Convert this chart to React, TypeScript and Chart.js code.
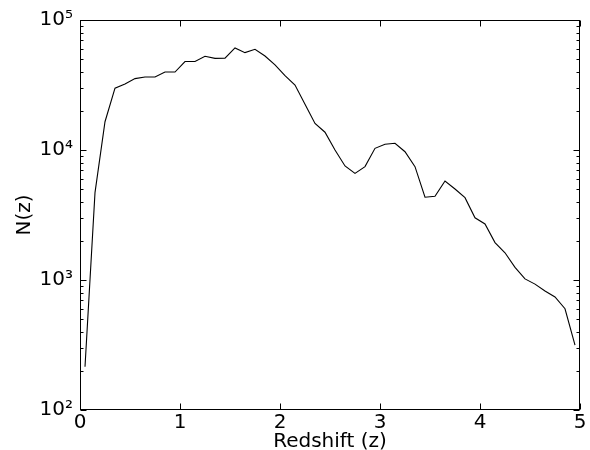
import React, { useEffect, useRef } from "react";
import { Chart, registerables } from "chart.js";

Chart.register(...registerables);

const redshift = [
  0.05, 0.15, 0.25, 0.35, 0.45, 0.55, 0.65, 0.75, 0.85, 0.95,
  1.05, 1.15, 1.25, 1.35, 1.45, 1.55, 1.65, 1.75, 1.85, 1.95,
  2.05, 2.15, 2.25, 2.35, 2.45, 2.55, 2.65, 2.75, 2.85, 2.95,
  3.05, 3.15, 3.25, 3.35, 3.45, 3.55, 3.65, 3.75, 3.85, 3.95,
  4.05, 4.15, 4.25, 4.35, 4.45, 4.55, 4.65, 4.75, 4.85, 4.95,
];

const counts = [
  215, 4700, 16500, 29900, 32200, 35400, 36400, 36400, 39800, 39800,
  47900, 48000, 52600, 50700, 50900, 61000, 56100, 59500, 52800, 45100,
  37300, 31600, 22500, 16000, 13700, 10000, 7540, 6610, 7450, 10300,
  11070, 11270, 9700, 7450, 4330, 4400, 5780, 5010, 4300, 3010,
  2700, 1940, 1620, 1250, 1020, 930, 822, 740, 601, 316,
];

const xTicks = [0, 1, 2, 3, 4, 5];
const yMajorTicks = [100, 1000, 10000, 100000];
const yTickLabels = ["10\u00B2", "10\u00B3", "10\u2074", "10\u2075"];

const FONT = "'DejaVu Sans', sans-serif";

const frameAndTicks = {
  id: "frameAndTicks",
  afterDatasetsDraw(chart: any) {
    const { ctx, chartArea, scales } = chart;
    const xs = scales.x;
    const ys = scales.y;
    const L = Math.round(chartArea.left) + 0.5;
    const R = Math.round(chartArea.right) - 0.5;
    const T = Math.round(chartArea.top) + 0.5;
    const B = Math.round(chartArea.bottom) - 0.5;
    ctx.save();
    ctx.strokeStyle = "#000";
    ctx.lineWidth = 1;
    ctx.beginPath();
    xTicks.forEach((v) => {
      const px = Math.round(xs.getPixelForValue(v)) + 0.5;
      ctx.moveTo(px, B);
      ctx.lineTo(px, B - 6);
      ctx.moveTo(px, T);
      ctx.lineTo(px, T + 6);
    });
    yMajorTicks.forEach((v) => {
      const py = Math.round(ys.getPixelForValue(v)) + 0.5;
      ctx.moveTo(L, py);
      ctx.lineTo(L + 6, py);
      ctx.moveTo(R, py);
      ctx.lineTo(R - 6, py);
    });
    for (let k = 0; k < yMajorTicks.length - 1; k++) {
      for (let m = 2; m <= 9; m++) {
        const v = yMajorTicks[k] * m;
        const py = Math.round(ys.getPixelForValue(v)) + 0.5;
        ctx.moveTo(L, py);
        ctx.lineTo(L + 3, py);
        ctx.moveTo(R, py);
        ctx.lineTo(R - 3, py);
      }
    }
    ctx.stroke();
    ctx.strokeRect(L, T, R - L, B - T);
    ctx.restore();
  },
};

export default function App() {
  const ref = useRef<HTMLCanvasElement | null>(null);

  useEffect(() => {
    if (!ref.current) return;
    const data = redshift.map((z, i) => ({ x: z, y: counts[i] }));
    const chart = new Chart(ref.current, {
      type: "line",
      data: {
        datasets: [
          {
            data,
            borderColor: "#000",
            borderWidth: 1.1,
            pointRadius: 0,
            fill: false,
            tension: 0,
          },
        ],
      },
      options: {
        animation: false,
        responsive: false,
        maintainAspectRatio: false,
        layout: { padding: { top: 20, right: 10, left: 0, bottom: 0 } },
        plugins: {
          legend: { display: false },
          tooltip: { enabled: false },
        },
        scales: {
          x: {
            type: "linear",
            min: 0,
            max: 5,
            afterBuildTicks: (scale: any) => {
              scale.ticks = xTicks.map((v) => ({ value: v }));
            },
            afterFit: (scale: any) => {
              scale.height = 40;
            },
            grid: { display: false, drawTicks: false },
            border: { display: false },
            ticks: {
              color: "#000",
              font: { family: FONT, size: 20 },
              padding: 1,
              maxRotation: 0,
              callback: (v: any) => String(v),
            },
            title: {
              display: true,
              text: "Redshift (z)",
              color: "#000",
              font: { family: FONT, size: 20 },
              padding: { top: 0, bottom: -4 },
            },
          },
          y: {
            type: "logarithmic",
            min: 100,
            max: 100000,
            afterBuildTicks: (scale: any) => {
              scale.ticks = yMajorTicks.map((v) => ({ value: v }));
            },
            afterFit: (scale: any) => {
              scale.width = 80;
            },
            grid: { display: false, drawTicks: false },
            border: { display: false },
            ticks: {
              color: "#000",
              font: { family: FONT, size: 20 },
              padding: 7,
              callback: (v: any) => {
                const i = yMajorTicks.indexOf(Number(v));
                return i >= 0 ? yTickLabels[i] : "";
              },
            },
            title: {
              display: true,
              text: "N(z)",
              color: "#000",
              font: { family: FONT, size: 20 },
              padding: { top: 13, bottom: 0 },
            },
          },
        },
      },
      plugins: [frameAndTicks],
    });
    return () => chart.destroy();
  }, []);

  return (
    <div style={{ position: "fixed", left: 0, top: 0, width: 590, height: 450, background: "#fff" }}>
      <canvas ref={ref} width={590} height={450} style={{ width: 590, height: 450, display: "block" }} />
    </div>
  );
}
